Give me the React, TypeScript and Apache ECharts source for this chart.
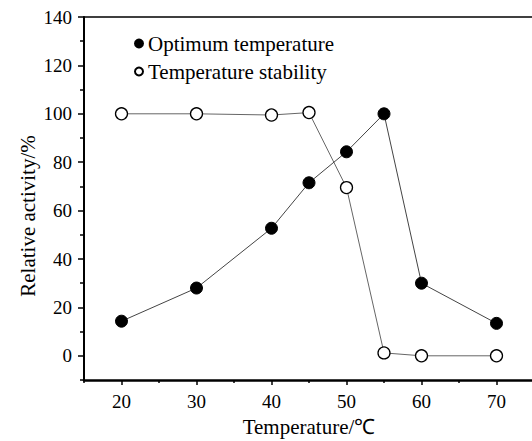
import React, { useEffect, useRef } from "react";
import * as echarts from "echarts";

const temperatures = [20, 30, 40, 45, 50, 55, 60, 70];
const optimumValues = [14.3, 28.0, 52.7, 71.5, 84.3, 100, 30.0, 13.4];
const stabilityValues = [100, 100, 99.5, 100.5, 69.5, 1.2, 0, 0];
const xMajorTicks = [20, 30, 40, 50, 60, 70];
const xMinorTicks = [15, 25, 35, 45, 55, 65, 75];
const yMajorTicks = [0, 20, 40, 60, 80, 100, 120, 140];
const yMinorTicks = [-10, 10, 30, 50, 70, 90, 110, 130];

const FONT = "Liberation Serif";

export default function App() {
  const ref = useRef<HTMLDivElement>(null);
  useEffect(() => {
    if (!ref.current) return;
    const chart = echarts.init(ref.current, undefined, { renderer: "svg" });
    const optData = temperatures.map((t, i) => [t, optimumValues[i]]);
    const stabData = temperatures.map((t, i) => [t, stabilityValues[i]]);
    const labelStyle = { fontFamily: FONT, fontSize: 19, color: "#000" };
    chart.setOption({
      animation: false,
      backgroundColor: "#fff",
      textStyle: { fontFamily: FONT },
      grid: {
        left: 84,
        top: 17,
        width: 450,
        height: 363,
        containLabel: false,
        outerBoundsMode: "none",
      },
      legend: {
        orient: "vertical",
        left: 129,
        top: 28,
        itemWidth: 8,
        itemHeight: 8,
        itemGap: 7,
        icon: "circle",
        textStyle: { fontFamily: FONT, fontSize: 21, color: "#000" },
        data: ["Optimum temperature", "Temperature stability"],
      },
      xAxis: [
        {
          type: "value",
          min: 15,
          max: 75,
          position: "bottom",
          name: "Temperature/℃",
          nameLocation: "middle",
          nameGap: 36,
          nameTextStyle: { fontFamily: FONT, fontSize: 21, color: "#000" },
          axisLine: { show: true, onZero: false, lineStyle: { color: "#000", width: 2.5 } },
          axisTick: {
            show: true,
            inside: false,
            length: 5,
            customValues: xMajorTicks,
            lineStyle: { color: "#000", width: 1.5 },
          },
          axisLabel: { customValues: xMajorTicks, margin: 12, ...labelStyle },
          splitLine: { show: false },
        },
        {
          type: "value",
          min: 15,
          max: 75,
          position: "bottom",
          axisLine: { show: false, onZero: false },
          axisTick: {
            show: true,
            inside: false,
            length: 3,
            customValues: xMinorTicks,
            lineStyle: { color: "#000", width: 1.5 },
          },
          axisLabel: { show: false },
          splitLine: { show: false },
        },
        {
          type: "value",
          min: 15,
          max: 75,
          position: "top",
          axisLine: { show: true, onZero: false, lineStyle: { color: "#000", width: 1.5 } },
          axisTick: { show: false },
          axisLabel: { show: false },
          splitLine: { show: false },
        },
      ],
      yAxis: [
        {
          type: "value",
          min: -10,
          max: 140,
          position: "left",
          axisLine: { show: true, onZero: false, lineStyle: { color: "#000", width: 2 } },
          axisTick: {
            show: true,
            inside: false,
            length: 6,
            customValues: yMajorTicks,
            lineStyle: { color: "#000", width: 1.5 },
          },
          axisLabel: { customValues: yMajorTicks, margin: 12, ...labelStyle },
          splitLine: { show: false },
        },
        {
          type: "value",
          min: -10,
          max: 140,
          position: "left",
          axisLine: { show: false, onZero: false },
          axisTick: {
            show: true,
            inside: false,
            length: 4,
            customValues: yMinorTicks,
            lineStyle: { color: "#000", width: 1.5 },
          },
          axisLabel: { show: false },
          splitLine: { show: false },
        },
      ],
      graphic: [
        {
          type: "text",
          x: 28,
          y: 216,
          rotation: Math.PI / 2,
          style: {
            text: "Relative activity/%",
            fontFamily: FONT,
            fontSize: 21,
            fill: "#000",
            align: "center",
            verticalAlign: "middle",
          },
        },
      ],
      series: [
        {
          name: "Optimum temperature",
          type: "line",
          xAxisIndex: 0,
          yAxisIndex: 0,
          data: optData,
          symbol: "circle",
          symbolSize: 12,
          itemStyle: { color: "#000", borderColor: "#000", borderWidth: 1 },
          lineStyle: { color: "#444", width: 1 },
          z: 3,
        },
        {
          name: "Temperature stability",
          type: "line",
          xAxisIndex: 0,
          yAxisIndex: 0,
          data: stabData,
          symbol: "circle",
          symbolSize: 12,
          itemStyle: { color: "#fff", borderColor: "#000", borderWidth: 1.3 },
          lineStyle: { color: "#666", width: 1 },
          z: 2,
        },
      ],
    });
    return () => chart.dispose();
  }, []);
  return <div ref={ref} style={{ width: 532, height: 441, position: "absolute", left: 0, top: 0 }} />;
}
